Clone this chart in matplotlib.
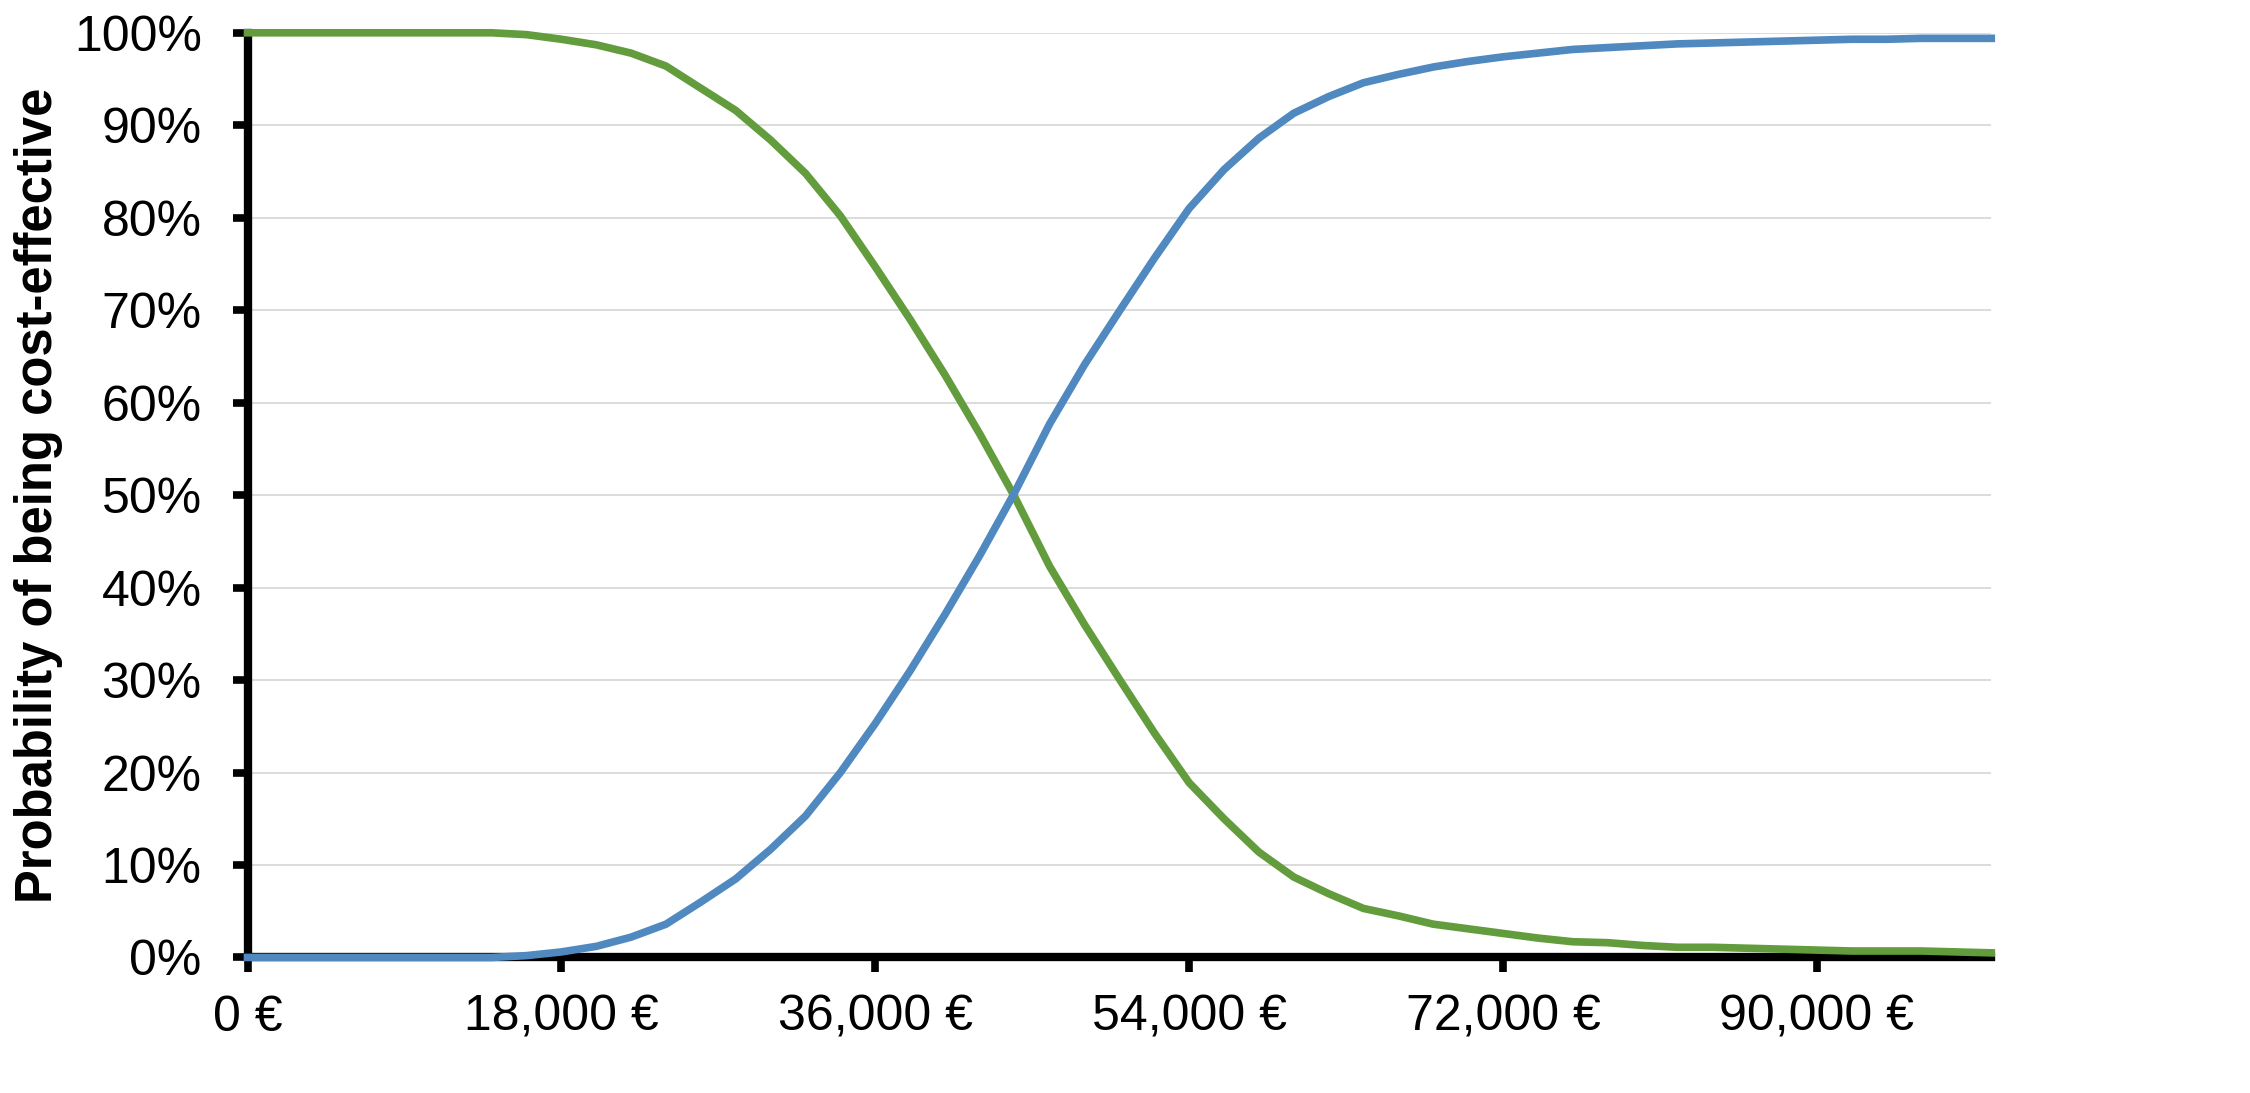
import numpy as np
import matplotlib
matplotlib.use('Agg')
import matplotlib.pyplot as plt
from matplotlib.ticker import FuncFormatter, MultipleLocator

plt.rcParams['font.family'] = ['Liberation Sans', 'DejaVu Sans']

# willingness to pay (EUR), every 2,000
wtp = list(range(0, 100001, 2000))

# probability of being cost-effective (%)
green = [100, 100, 100, 100, 100, 100, 100, 100, 99.8, 99.3,
         98.7, 97.8, 96.4, 94.0, 91.6, 88.4, 84.8, 80.2, 74.7, 69.0,
         63.0, 56.6, 49.8, 42.3, 36.0, 30.1, 24.3, 18.9, 15.0, 11.4,
         8.7, 6.9, 5.3, 4.5, 3.6, 3.1, 2.6, 2.1, 1.7, 1.6,
         1.3, 1.1, 1.1, 1.0, 0.9, 0.8, 0.7, 0.7, 0.7, 0.6,
         0.5]
blue = [0, 0, 0, 0, 0, 0, 0, 0, 0.2, 0.6,
        1.2, 2.2, 3.6, 6.0, 8.5, 11.7, 15.3, 20.0, 25.3, 31.0,
        37.1, 43.5, 50.3, 57.7, 64.1, 69.9, 75.6, 81.0, 85.2, 88.6,
        91.3, 93.1, 94.6, 95.5, 96.3, 96.9, 97.4, 97.8, 98.2, 98.4,
        98.6, 98.8, 98.9, 99.0, 99.1, 99.2, 99.3, 99.3, 99.4, 99.4,
        99.4]

fig = plt.figure(figsize=(22.5, 10.93), dpi=100)
ax = fig.add_axes([0.110, 0.124, 0.775, 0.846])

ax.plot(wtp, green, color='#629c3d', lw=5.5, zorder=3, clip_on=False)
ax.plot(wtp, blue, color='#4f89c0', lw=5.5, zorder=3, clip_on=False)

ax.set_xlim(0, 100000)
ax.set_ylim(0, 100)
ax.xaxis.set_major_locator(MultipleLocator(18000))
ax.yaxis.set_major_locator(MultipleLocator(10))
ax.xaxis.set_major_formatter(FuncFormatter(lambda v, p: '{:,.0f} €'.format(v)))
ax.yaxis.set_major_formatter(FuncFormatter(lambda v, p: '{:.0f}%'.format(v)))

ax.grid(axis='y', color='#d9d9d9', lw=1.3)
ax.set_axisbelow(True)
for s in ['top', 'right']:
    ax.spines[s].set_visible(False)
for s in ['left', 'bottom']:
    ax.spines[s].set_linewidth(6)
    ax.spines[s].set_color('black')

ax.tick_params(axis='both', labelsize=36, width=5.5, length=11, color='black')
ax.tick_params(axis='y', pad=22)
ax.tick_params(axis='x', pad=16)

ax.set_ylabel('Probability of being cost-effective', fontsize=36.5,
              fontweight='bold', labelpad=8)

fig.savefig('out.png', dpi=100)
